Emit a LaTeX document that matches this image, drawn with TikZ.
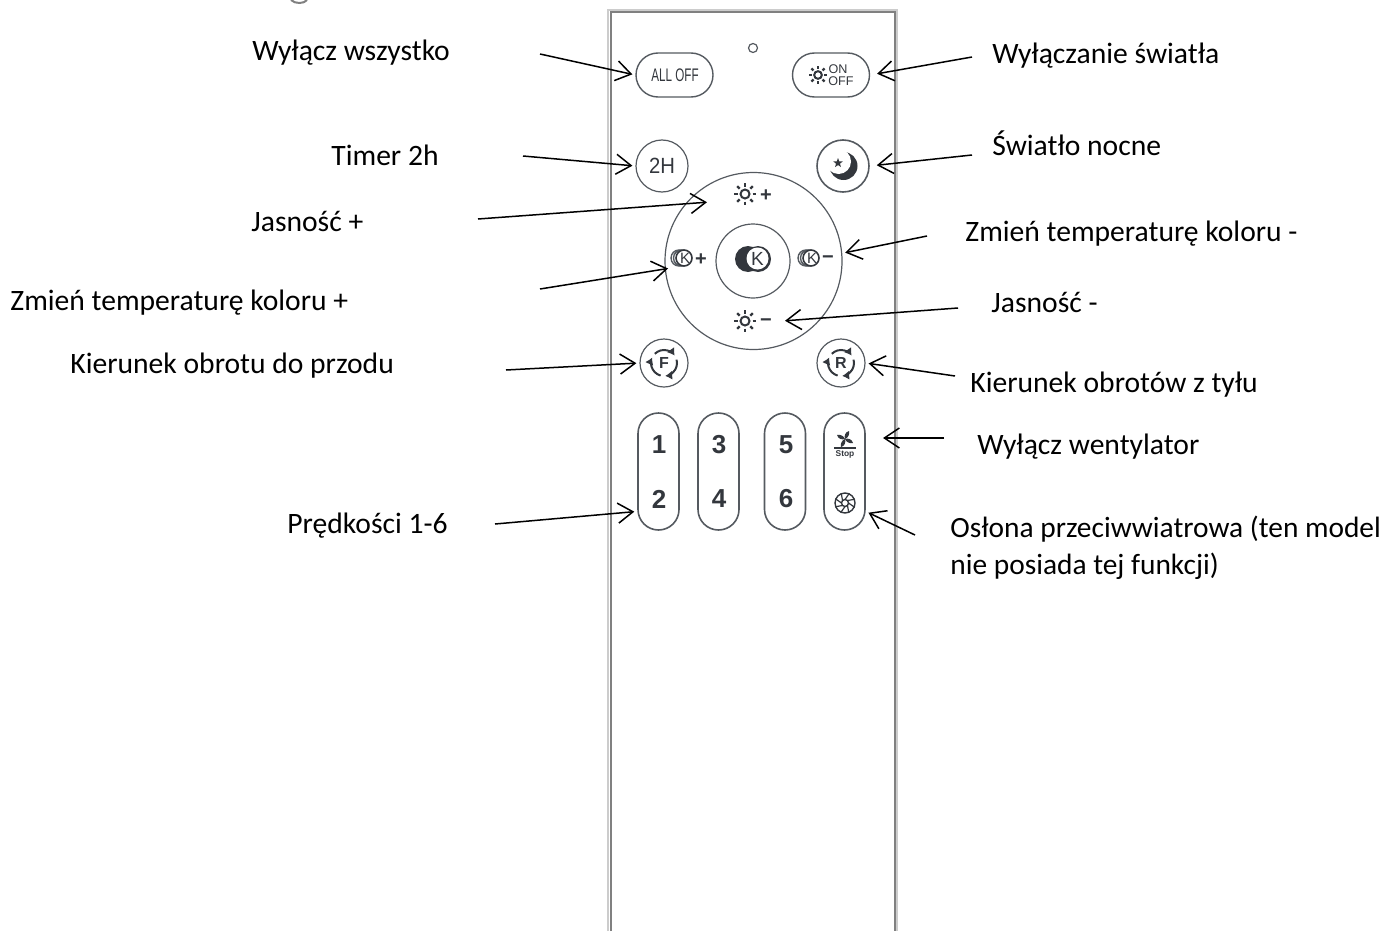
\documentclass[tikz,border=0pt]{standalone}
\usepackage{fontspec}
\setmainfont{Carlito}
\newfontfamily\keyfont{Liberation Sans}
\usetikzlibrary{arrows.meta,shapes.misc,shapes.geometric}
\definecolor{keyline}{HTML}{555A60}
\definecolor{keyink}{HTML}{33373D}
\tikzset{
  note/.style={anchor=base west,inner sep=0pt,font=\fontsize{14.8}{18}\selectfont},
  callout/.style={black,line width=.75pt,-{Straight Barb[length=7.5pt,width=10pt,line width=.75pt]},shorten >=1.5pt},
  roundkey/.style={circle,draw=keyline,line width=.6pt,inner sep=0pt,minimum size=#1},
  pillkey/.style={rounded rectangle,draw=keyline,line width=.7pt,inner sep=0pt,minimum width=38.5pt,minimum height=22pt},
  tallkey/.style={rounded rectangle,rotate=90,draw=keyline,line width=.8pt,inner sep=0pt,minimum width=58.5pt,minimum height=20.5pt},
  keytext/.style={inner sep=0pt,text=keyink,font=\keyfont\fontsize{#1}{#1}\selectfont},
  keybold/.style={inner sep=0pt,text=keyink,font=\keyfont\bfseries\fontsize{#1}{#1}\selectfont},
  sunglyph/.pic={
    \draw[keyink,line width=1pt] (0,0) circle (4.5);
    \foreach \a in {0,45,...,315}
      \draw[keyink,line width=1.2pt] (\a:7.5) -- (\a:11);
  },
  kelvinglyph/.pic={
    \foreach \dx in {-5,-2.5}
      \draw[keyline,line width=.7pt] (\dx,0) circle (8);
    \draw[keyink,line width=.8pt,fill=white] (0,0) circle (8);
    \node[keytext=7.5] (#1) at (1,0) {K};
  },
  turnglyph/.pic={
    \draw[keyink,line width=1pt,-{Latex[length=3.5pt,width=4.5pt]}] (-15:13) arc (-15:85:13);
    \draw[keyink,line width=1pt,-{Latex[length=3.5pt,width=4.5pt]}] (105:13) arc (105:205:13);
    \draw[keyink,line width=1pt,-{Latex[length=3.5pt,width=4.5pt]}] (225:13) arc (225:325:13);
  },
}
\begin{document}
\begin{tikzpicture}[x=.5pt,y=-.5pt]
\useasboundingbox (0,0) rectangle (1384,931);

% cut off heading
\draw[gray,line width=1pt] (291,0) .. controls (295,4) and (304,4) .. (307,0);

% remote body
\draw[black!20,line width=1pt] (608,931) -- (608,10) -- (897,10) -- (897,931);
\draw[black!50,line width=1pt] (610.5,931) -- (610.5,12) -- (895,12) -- (895,931);

\draw[keyline,line width=.6pt] (753,48) circle (4.5);

% top keys
\node[pillkey] (alloff) at (674.5,75) {};
\node[keytext=9.1,xscale=.64] (alloffword) at (675,75) {ALL OFF};
\node[pillkey] (onoff) at (831,75) {};
\pic[scale=.85] at (818,75) {sunglyph};
\node[keytext=6.3] (onword) at (838,69) {ON};
\node[keytext=6.3] (offword) at (841,81) {OFF};

\node[roundkey=26pt] (twoh) at (662,166) {};
\node[keytext=11,xscale=.92] (twohword) at (662,166) {2H};
\node[roundkey=26pt,line width=.8pt] (moonkey) at (843,166) {};
\fill[keyink] (843.5,166) circle (14);
\fill[white] (838.5,161.5) circle (12.5);
\node[star,star points=5,star point ratio=2.4,fill=keyink,inner sep=0pt,minimum size=5pt] (moonstar) at (838,163) {};

% round pad
\node[roundkey=88.5pt] (pad) at (753.5,261) {};
\node[roundkey=37pt] (padcentre) at (753,261) {};
\fill[keyink] (748,259) circle (13) (758,259) circle (13);
\fill[white] (757.5,258.5) circle (11);
\node[keytext=9.5] (padk) at (757.5,258.5) {K};

\pic at (745,194) {sunglyph};
\node[keybold=10] (sunplus) at (766,196) {+};
\pic at (745,321) {sunglyph};
\node[keybold=10] (sunminus) at (766,323) {\textminus};
\pic at (684,258) {kelvinglyph=kplusk};
\node[keybold=10] (kplus) at (701,260) {+};
\pic at (811,258) {kelvinglyph=kminusk};
\node[keybold=10] (kminus) at (828,260) {\textminus};

% direction keys
\node[roundkey=24pt] (forward) at (664,363) {};
\pic at (664,363) {turnglyph};
\node[keybold=8] (forwardword) at (664,363) {F};
\node[roundkey=24pt] (reverse) at (841,363) {};
\pic at (841,363) {turnglyph};
\node[keybold=8] (reverseword) at (841,363) {R};

% speed keys
\node[tallkey] (speedA) at (658.5,471.5) {};
\node[tallkey] (speedB) at (718.5,471.5) {};
\node[tallkey] (speedC) at (785,471.5) {};
\node[tallkey] (speedD) at (844.5,471.5) {};
\foreach \num/\xpos/\ypos in {1/659/445,2/659/499,3/719/445,4/719/499,5/786/445,6/786/499}
  \node[keybold=13] (digit\num) at (\xpos,\ypos) {\num};

\foreach \a in {0,90,180,270}
  \fill[keyink,shift={(845,439)},rotate=\a] (0,0) .. controls (-1,-3) and (0,-7) .. (4,-8) .. controls (5,-5) and (3,-1) .. (0,0);
\draw[keyink,line width=.8pt] (834,448) -- (856,448);
\node[keybold=4.2] (stopword) at (845,454.5) {Stop};
\draw[keyink,line width=.7pt] (845,503) circle (10) (845,503) circle (3.5);
\foreach \a in {0,45,...,315}
  \draw[keyink,line width=.6pt] (845,503) ++(\a:3.5) -- ++(\a+35:7.5);

% left labels
\node[note] (lallo) at (252,61) {Wyłącz wszystko};
\node[note] (ltimer) at (331,165) {Timer 2h};
\node[note] (lbright) at (251,231) {Jasność +};
\node[note] (lwarm) at (10,310) {Zmień temperaturę koloru +};
\node[note] (lfwd) at (70,373) {Kierunek obrotu do przodu};
\node[note] (lspeed) at (287,533) {Prędkości 1-6};

% right labels
\node[note] (rlight) at (992,64) {Wyłączanie światła};
\node[note] (rnight) at (992,155) {Światło nocne};
\node[note] (rcold) at (965,241) {Zmień temperaturę koloru -};
\node[note] (rdim) at (991,312) {Jasność -};
\node[note] (rback) at (970,392) {Kierunek obrotów z tyłu};
\node[note] (rfan) at (977,454) {Wyłącz wentylator};
\node[note,anchor=north west,align=left,font=\fontsize{14.7}{18.5}\selectfont] (rshield) at (950,516) {Osłona przeciwwiatrowa (ten model\\nie posiada tej funkcji)};

% arrow tails
\coordinate (fromallo) at (540,54);
\coordinate (fromtimer) at (523,156);
\coordinate (frombright) at (478,219);
\coordinate (fromwarm) at (540,289);
\coordinate (fromfwd) at (506,370);
\coordinate (fromspeed) at (495,524);
\coordinate (fromlight) at (972,57);
\coordinate (fromnight) at (972,155);
\coordinate (fromcold) at (927,236);
\coordinate (fromdim) at (958,308);
\coordinate (fromback) at (955,376);
\coordinate (fromfan) at (944,438);
\coordinate (fromshield) at (915,535);
\coordinate (tipbright) at (710,202);
\coordinate (tipwarm) at (671,268);
\coordinate (tipdim) at (782,321);
\coordinate (tipfan) at (880,438);

\draw[callout] (fromallo) -- (alloff.west);
\draw[callout] (fromtimer) -- (twoh.west);
\draw[callout] (frombright) -- (tipbright);
\draw[callout] (fromwarm) -- (tipwarm);
\draw[callout] (fromfwd) -- (forward.west);
\draw[callout] (fromspeed) -- (speedA.152);
\draw[callout,shorten >=3.5pt] (fromlight) -- (onoff.east);
\draw[callout,shorten >=3.5pt] (fromnight) -- (moonkey.east);
\draw[callout] (fromcold) -- (pad.5);
\draw[callout] (fromdim) -- (tipdim);
\draw[callout] (fromback) -- (reverse.east);
\draw[callout] (fromfan) -- (tipfan);
\draw[callout] (fromshield) -- (speedD.208);
\end{tikzpicture}
\end{document}
